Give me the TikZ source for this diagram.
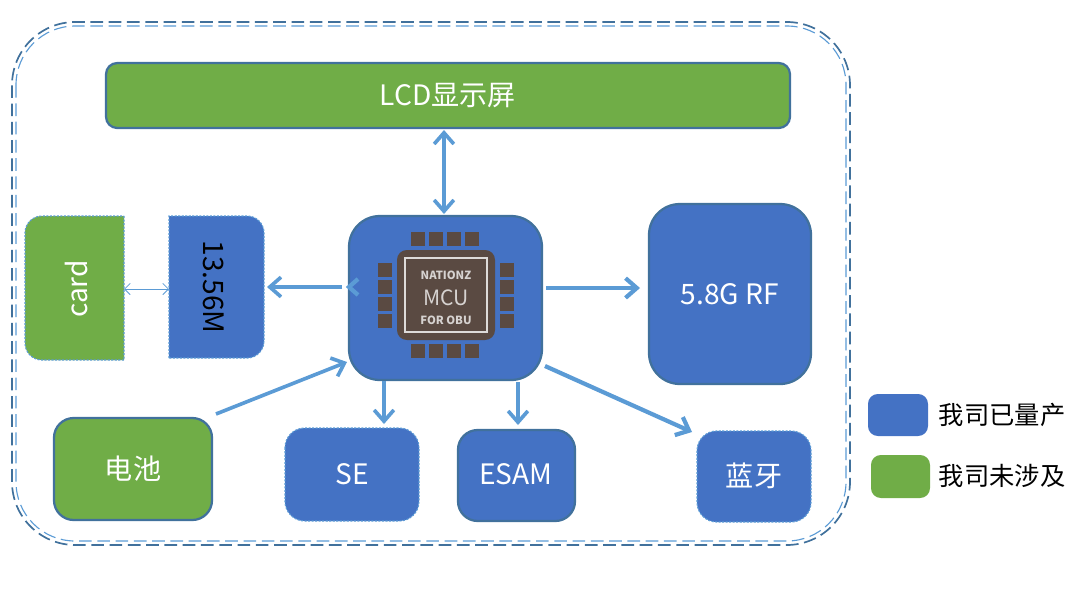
\documentclass[tikz,border=0pt]{standalone}
\usepackage{fontspec}
\setmainfont{Noto Sans CJK SC}
\usetikzlibrary{arrows.meta,calc}
\definecolor{bfill}{HTML}{4472C4}
\definecolor{gfill}{HTML}{70AD47}
\definecolor{bdr}{HTML}{41719C}
\definecolor{arr}{HTML}{5B9BD5}
\definecolor{chip}{HTML}{5A4A42}
\begin{document}
\begin{tikzpicture}[x=0.025cm,y=-0.025cm,
  box/.style={draw=bdr,line width=1.6pt,rounded corners=8pt},
  dbox/.style={draw=arr,dash pattern=on 1.5pt off 1pt,line width=0.8pt,rounded corners=8pt},
  lbl/.style={text=white,font=\fontsize{20}{24}\selectfont},
  arrow/.style={-{Straight Barb[length=8pt,width=14pt]},arr,line width=2.6pt},
  pin/.style={fill=chip,minimum size=10pt,inner sep=0pt}
]
\useasboundingbox (0,0) rectangle (1087,588);
\draw[bdr,dash pattern=on 9pt off 4pt,line width=1.2pt,rounded corners=45pt] (12,22) rectangle (850,545);
\draw[arr,dash pattern=on 9pt off 4pt,line width=0.8pt,rounded corners=42pt] (16,26) rectangle (846,541);

\path[box,fill=gfill] (106,63) rectangle (790,128);
\node[lbl] (lcd) at (448,96) {LCD显示屏};
\coordinate (lcdb) at (444,130);

\path[box,fill=bfill,rounded corners=22pt] (349,216) rectangle (542,380);
\path[fill=chip,rounded corners=7pt] (397,250) rectangle (495,340);
\draw[white!80!chip,line width=2pt] (405,258) rectangle (487,332);
\node[text=white!75!chip,font=\fontsize{8}{9}\selectfont\bfseries] (t1) at (446,275) {NATIONZ};
\node[text=white!75!chip,font=\fontsize{15}{16}\selectfont] (mcu) at (446,298) {MCU};
\node[text=white!75!chip,font=\fontsize{8}{9}\selectfont\bfseries] (t2) at (446,320) {FOR OBU};
\foreach \i in {0,1,2,3}{
  \node[pin] at (418+\i*18,239) {};
  \node[pin] at (418+\i*18,351) {};
  \node[pin] at (385,270+\i*17) {};
  \node[pin] at (507,270+\i*17) {};
}

\path[box,fill=bfill,rounded corners=22pt] (649,204) rectangle (811,384);
\node[lbl] (rf) at (730,294) {5.8G RF};
\coordinate (rfw) at (640,288);

\path[dbox,fill=gfill,rounded corners=0pt] (124,216) -- (124,360) [rounded corners=12pt] -- (25,360) -- (25,216) [rounded corners=0pt] -- cycle;
\node[lbl,rotate=90] (card) at (76,289) {card};
\path[dbox,fill=bfill,rounded corners=0pt] (169,358) -- (169,216) [rounded corners=12pt] -- (264,216) -- (264,358) [rounded corners=0pt] -- cycle;
\node[lbl,rotate=-90,text=black] (rfid) at (214,287) {13.56M};
\coordinate (cardE) at (124,289);
\coordinate (rfidW) at (169,289);
\coordinate (rfidE) at (267,287);

\path[box,fill=gfill,rounded corners=14pt] (54,418) rectangle (212,520);
\node[lbl] (bat) at (133,469) {电池};
\path[dbox,fill=bfill,rounded corners=14pt] (285,428) rectangle (419,521);
\node[lbl] (se) at (352,474) {SE};
\path[box,fill=bfill,rounded corners=14pt] (458,430) rectangle (575,521);
\node[lbl] (esam) at (516,474) {ESAM};
\path[dbox,fill=bfill,rounded corners=14pt] (697,431) rectangle (811,522);
\node[lbl] (bt) at (754,476) {蓝牙};

\draw[arrow,{Straight Barb[length=8pt,width=14pt]}-{Straight Barb[length=8pt,width=14pt]}] (lcdb) -- (444,214);
\draw[arrow] (342,287) -- (rfidE);
\draw[arr,line width=3pt] (358,279) -- (349,287) -- (358,295);
\draw[arrow,line width=3pt] (546,288) -- (rfw);
\draw[arrow] (216,414) -- (347,362);
\draw[arrow] (384,381) -- (384,424);
\draw[arrow] (518,382) -- (518,425);
\draw[arrow,line width=3pt] (545,366) -- (692,432);
\draw[arr,line width=0.6pt,{Straight Barb[length=4pt,width=8pt]}-{Straight Barb[length=4pt,width=8pt]}] (cardE) -- (rfidW);

\path[fill=bfill,rounded corners=7pt] (868,394) rectangle (928,436);
\node[anchor=west,font=\fontsize{18}{21}\selectfont] (l1) at (934,415) {我司已量产};
\path[fill=gfill,rounded corners=7pt] (871,455) rectangle (930,498);
\node[anchor=west,font=\fontsize{18}{21}\selectfont] (l2) at (934,476) {我司未涉及};
\end{tikzpicture}
\end{document}
